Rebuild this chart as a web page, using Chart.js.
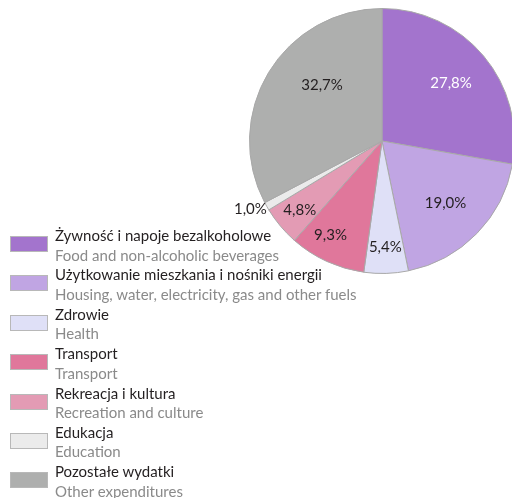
<!DOCTYPE html>
<html>
<head>
<meta charset="utf-8">
<script src="https://cdn.jsdelivr.net/npm/chart.js@4/dist/chart.umd.min.js"></script>
<style>
  html, body { margin: 0; padding: 0; background: #fff; overflow: hidden; width: 512px; height: 498px; }
  #wrap { position: relative; width: 512px; height: 498px; overflow: hidden; }
  #c { position: absolute; left: 0; top: 0; }
  #legend { position: absolute; left: 10px; top: 226px; font-family: Lato, "Open Sans", sans-serif; font-size: 15px; }
  .item { position: relative; height: 39.4px; }
  .box { position: absolute; left: 0; top: 10px; width: 36px; height: 14px; border: 1px solid #b8b8b8; }
  .txt { position: absolute; left: 45px; top: 0; line-height: 19.5px; white-space: nowrap; }
  .pl { color: #231f20; }
  .en { color: #8a8a8a; }
</style>
</head>
<body>
<div id="wrap">
  <canvas id="c" width="520" height="498"></canvas>
  <div id="legend"></div>
</div>
<script>
const labelsPL = ["Żywność i napoje bezalkoholowe", "Użytkowanie mieszkania i nośniki energii", "Zdrowie", "Transport", "Rekreacja i kultura", "Edukacja", "Pozostałe wydatki"];
const labelsEN = ["Food and non-alcoholic beverages", "Housing, water, electricity, gas and other fuels", "Health", "Transport", "Recreation and culture", "Education", "Other expenditures"];
const shares = [27.8, 19.0, 5.4, 9.3, 4.8, 1.0, 32.7];
const colors = ["#a374cd", "#c0a5e3", "#dfe0f7", "#e0779b", "#e39bb4", "#ebebeb", "#aeafae"];
const labelColors = ["#ffffff", "#231f20", "#231f20", "#231f20", "#231f20", "#231f20", "#231f20"];
const labelRadius = [0.68, 0.67, 0.8, 0.81, 0.81, 1.12, 0.62];
const labelAngleShift = [0, 0, 0, 4, 0, 2, 12];

// legend (HTML text)
const legend = document.getElementById('legend');
labelsPL.forEach((pl, i) => {
  const it = document.createElement('div');
  it.className = 'item';
  it.innerHTML = '<div class="box" style="background:' + colors[i] + '"></div>' +
    '<div class="txt"><div class="pl">' + pl + '</div><div class="en">' + labelsEN[i] + '</div></div>';
  legend.appendChild(it);
});

const fmt = v => v.toFixed(1).replace('.', ',') + '%';

const pctLabels = {
  id: 'pctLabels',
  afterDatasetsDraw(chart) {
    const ctx = chart.ctx;
    const meta = chart.getDatasetMeta(0);
    ctx.save();
    ctx.font = '15px Lato, "Open Sans", sans-serif';
    ctx.textAlign = 'center';
    ctx.textBaseline = 'middle';
    meta.data.forEach((arc, i) => {
      const p = arc.getProps(['x', 'y', 'startAngle', 'endAngle', 'outerRadius'], true);
      const a = (p.startAngle + p.endAngle) / 2 + labelAngleShift[i] * Math.PI / 180;
      const r = p.outerRadius * labelRadius[i];
      ctx.fillStyle = labelColors[i];
      ctx.fillText(fmt(shares[i]), p.x + Math.cos(a) * r, p.y + Math.sin(a) * r);
    });
    ctx.restore();
  }
};

new Chart(document.getElementById('c'), {
  type: 'pie',
  data: {
    labels: labelsPL,
    datasets: [{
      data: shares,
      backgroundColor: colors,
      borderColor: '#a8a8a8',
      borderWidth: 1
    }]
  },
  options: {
    responsive: false,
    animation: false,
    layout: { padding: { left: 249, top: 8, right: 5, bottom: 224 } },
    plugins: { legend: { display: false }, tooltip: { enabled: false } }
  },
  plugins: [pctLabels]
});
</script>
</body>
</html>
